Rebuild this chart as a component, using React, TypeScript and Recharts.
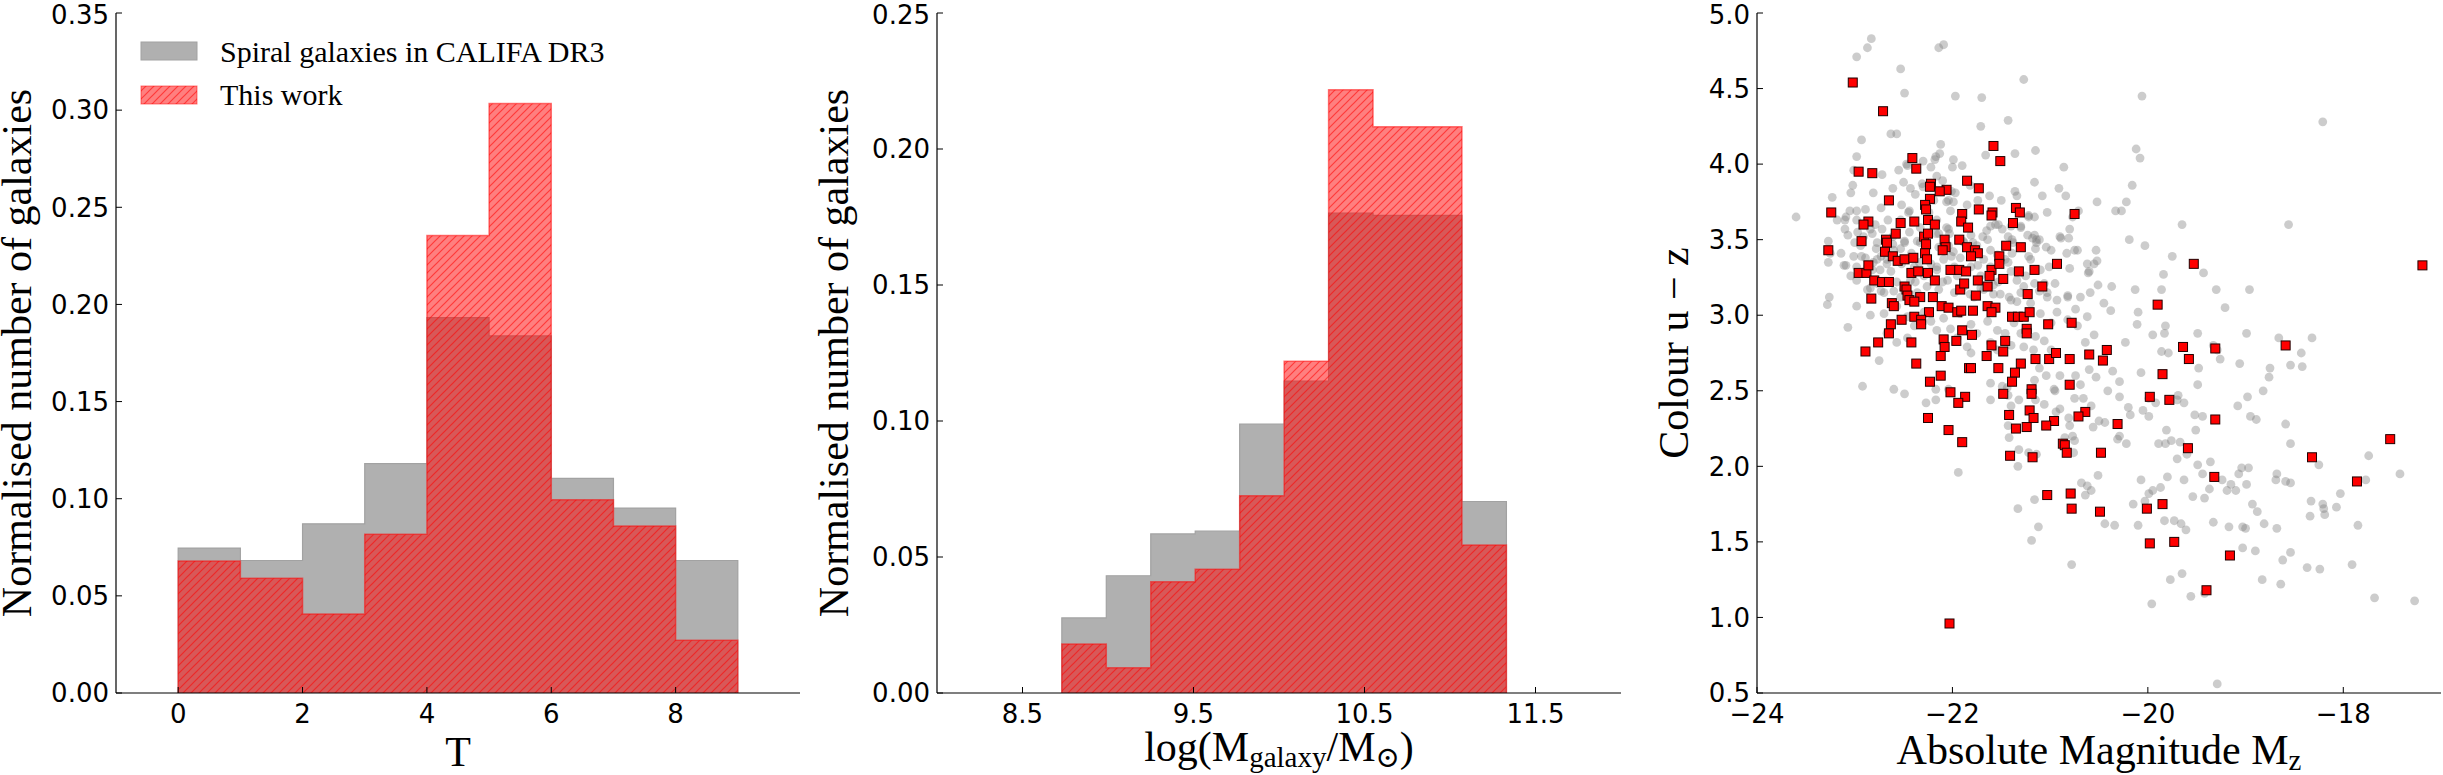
import type { ReactNode } from 'react';
import { Area, ComposedChart, Label, Scatter, ScatterChart, XAxis, YAxis } from 'recharts';

// ---- morphological type T: normalised histograms (shared bin edges) ----
const T_EDGES = [0, 1, 2, 3, 4, 5, 6, 7, 8, 9];
const T_CALIFA = [0.0746, 0.0682, 0.0871, 0.1181, 0.1932, 0.1838, 0.1105, 0.0952, 0.0682];
const T_THIS_WORK = [0.068, 0.0591, 0.0407, 0.0817, 0.2355, 0.3034, 0.0995, 0.086, 0.0272];
const T_TICKS = [0, 2, 4, 6, 8];
const T_FRACTION_TICKS = [0, 0.05, 0.1, 0.15, 0.2, 0.25, 0.3, 0.35];

// ---- stellar mass log(M/Msun) ----
const MASS_EDGES = [8.73, 8.99, 9.25, 9.51, 9.77, 10.03, 10.29, 10.55, 10.81, 11.07, 11.33];
const MASS_CALIFA = [0.0276, 0.0431, 0.0585, 0.0595, 0.0989, 0.1147, 0.1764, 0.1756, 0.1756, 0.0704];
const MASS_THIS_WORK = [0.018, 0.0093, 0.0409, 0.0455, 0.0725, 0.122, 0.2218, 0.2082, 0.2082, 0.0544];
const MASS_TICKS = [8.5, 9.5, 10.5, 11.5];
const MASS_FRACTION_TICKS = [0, 0.05, 0.1, 0.15, 0.2, 0.25];

// ---- colour-magnitude diagram: [M_z, u - z] ----
const MAG_TICKS = [-24, -22, -20, -18];
const COLOUR_TICKS = [0.5, 1, 1.5, 2, 2.5, 3, 3.5, 4, 4.5, 5];

const CALIFA_MZ_UZ: [number, number][] = [
  [-22.83, 4.83], [-22.87, 4.77], [-22.98, 4.71], [-22.09, 4.79], [-22.14, 4.77], [-22.53, 4.63], [-21.27, 4.56],
  [-22.49, 4.47], [-21.97, 4.45], [-21.7, 4.44], [-21.43, 4.29], [-21.71, 4.25], [-22.63, 4.2], [-22.57, 4.2],
  [-22.93, 4.16], [-22.12, 4.13], [-22.17, 4.05], [-22.98, 4.05], [-21.99, 4.03], [-21.9, 3.99], [-21.66, 4.06],
  [-21.15, 4.09], [-21.36, 4.07], [-23.01, 3.96], [-22.72, 3.93], [-22.47, 4.0], [-22.55, 3.96], [-22.3, 4.02],
  [-20.86, 3.98], [-23.02, 3.86], [-23.04, 3.81], [-22.81, 3.81], [-22.61, 3.84], [-22.5, 3.88], [-22.43, 3.84],
  [-22.38, 3.8], [-22.31, 3.87], [-22.16, 3.92], [-22.1, 3.89], [-22.01, 3.82], [-21.99, 3.75], [-21.82, 3.86],
  [-21.97, 3.81], [-21.62, 3.79], [-21.36, 3.82], [-21.34, 3.79], [-21.16, 3.88], [-21.08, 3.79], [-20.91, 3.84],
  [-20.84, 3.79], [-23.23, 3.78], [-22.98, 3.69], [-23.05, 3.69], [-23.1, 3.63], [-23.18, 3.63], [-22.89, 3.7],
  [-22.73, 3.71], [-22.52, 3.73], [-22.44, 3.69], [-22.24, 3.68], [-22.06, 3.75], [-21.85, 3.73], [-21.74, 3.76],
  [-21.5, 3.76], [-21.22, 3.66], [-21.16, 3.65], [-21.03, 3.68], [-20.71, 3.69], [-20.52, 3.75], [-23.6, 3.65],
  [-23.27, 3.49], [-23.25, 3.41], [-23.27, 3.35], [-23.14, 3.41], [-23.09, 3.33], [-23.1, 3.57], [-23.07, 3.53],
  [-23.0, 3.48], [-22.97, 3.55], [-22.91, 3.52], [-22.84, 3.57], [-22.78, 3.44], [-22.73, 3.39], [-22.67, 3.34],
  [-22.61, 3.47], [-22.53, 3.44], [-22.49, 3.49], [-22.44, 3.55], [-22.36, 3.49], [-22.33, 3.58], [-22.17, 3.54],
  [-22.14, 3.45], [-22.06, 3.58], [-22.03, 3.54], [-22.01, 3.39], [-21.99, 3.42], [-21.89, 3.49], [-21.81, 3.53],
  [-21.79, 3.48], [-21.69, 3.52], [-21.65, 3.56], [-21.56, 3.6], [-21.49, 3.57], [-21.43, 3.52], [-21.38, 3.48],
  [-21.3, 3.58], [-21.23, 3.53], [-21.18, 3.51], [-21.14, 3.5], [-21.15, 3.44], [-21.04, 3.45], [-20.9, 3.52],
  [-20.8, 3.57], [-20.75, 3.43], [-20.72, 3.43], [-20.53, 3.43], [-21.61, 3.43], [-21.39, 3.41], [-21.22, 3.39],
  [-21.01, 3.32], [-20.8, 3.31], [-20.61, 3.28], [-20.55, 3.34], [-22.93, 3.39], [-22.87, 3.32], [-22.81, 3.35],
  [-22.34, 3.35], [-22.16, 3.32], [-21.74, 3.33], [-21.43, 3.35], [-23.26, 3.12], [-23.28, 3.07], [-23.07, 2.92],
  [-22.98, 3.06], [-23.04, 3.26], [-22.84, 3.18], [-22.73, 3.16], [-22.6, 3.16], [-22.53, 3.12], [-22.38, 3.22],
  [-22.29, 3.26], [-22.1, 3.22], [-21.95, 3.26], [-21.82, 3.14], [-21.71, 3.18], [-21.58, 3.14], [-21.53, 3.22],
  [-21.42, 3.12], [-21.34, 3.09], [-21.27, 3.19], [-21.16, 3.21], [-21.11, 3.16], [-21.03, 3.12], [-20.95, 3.21],
  [-20.82, 3.13], [-20.69, 3.12], [-20.51, 3.2], [-20.6, 2.64], [-20.53, 2.59], [-20.74, 2.6], [-20.69, 2.54],
  [-20.75, 2.45], [-20.66, 2.45], [-20.58, 2.4], [-20.56, 2.26], [-20.5, 2.3], [-20.9, 2.38], [-21.06, 2.41],
  [-20.95, 2.5], [-20.9, 2.6], [-21.04, 2.6], [-21.11, 2.65], [-21.16, 2.57], [-21.32, 2.44], [-21.43, 2.47],
  [-21.44, 2.52], [-21.42, 2.19], [-21.32, 2.11], [-21.33, 2.0], [-21.22, 2.09], [-20.75, 2.17], [-20.76, 2.09],
  [-20.68, 1.89], [-20.62, 1.87], [-20.58, 1.84], [-20.51, 1.94], [-21.16, 1.78], [-21.12, 1.6], [-21.19, 1.51],
  [-21.33, 1.72], [-20.78, 1.35], [-21.94, 1.96], [-22.92, 2.53], [-22.75, 2.7], [-22.6, 2.51], [-22.49, 2.48],
  [-22.27, 2.42], [-22.17, 2.44], [-22.17, 2.51], [-22.04, 2.51], [-21.61, 2.55], [-21.61, 2.44], [-21.49, 2.53],
  [-21.4, 2.4], [-21.15, 2.44], [-21.43, 2.27], [-21.14, 2.08], [-20.94, 2.36], [-20.81, 2.32], [-20.8, 2.27],
  [-20.77, 2.2], [-20.85, 2.19], [-20.64, 1.81], [-20.96, 2.51], [-21.81, 2.75], [-22.18, 4.03], [-22.13, 4.07],
  [-22.22, 3.98], [-22.46, 3.99], [-22.0, 3.98], [-22.3, 3.85], [-22.19, 3.76], [-22.04, 3.76], [-23.09, 3.65],
  [-22.98, 3.63], [-22.79, 3.6], [-22.82, 3.54], [-22.77, 3.48], [-22.72, 3.57], [-22.66, 3.63], [-22.61, 3.52],
  [-22.53, 3.63], [-22.45, 3.68], [-22.16, 3.63], [-22.02, 3.69], [-22.14, 3.54], [-22.04, 3.57], [-21.88, 3.48],
  [-21.75, 3.46], [-21.64, 3.5], [-21.61, 3.59], [-21.53, 3.6], [-21.4, 3.59], [-21.39, 3.5], [-21.3, 3.59],
  [-21.22, 3.65], [-21.16, 3.53], [-21.11, 3.5], [-21.14, 3.48], [-20.99, 3.43], [-20.83, 3.41], [-20.77, 3.65],
  [-20.89, 3.51], [-20.81, 3.51], [-20.62, 3.34], [-20.52, 3.36], [-23.11, 3.33], [-23.01, 3.39], [-22.98, 3.32],
  [-22.94, 3.46], [-22.89, 3.38], [-22.82, 3.3], [-22.77, 3.37], [-22.74, 3.3], [-22.67, 3.37], [-22.63, 3.29],
  [-22.6, 3.43], [-22.52, 3.34], [-22.49, 3.48], [-22.42, 3.41], [-22.39, 3.32], [-22.33, 3.48], [-22.22, 3.34],
  [-22.16, 3.3], [-22.09, 3.37], [-22.04, 3.46], [-21.98, 3.32], [-21.92, 3.38], [-21.81, 3.32], [-21.71, 3.26],
  [-21.68, 3.37], [-21.61, 3.32], [-21.54, 3.4], [-21.46, 3.37], [-21.4, 3.29], [-21.34, 3.23], [-21.25, 3.26],
  [-21.2, 3.37], [-21.1, 3.3], [-21.06, 3.21], [-21.03, 3.15], [-20.93, 3.1], [-20.82, 3.12], [-20.74, 3.04],
  [-20.59, 3.15], [-20.6, 3.29], [-22.98, 3.23], [-22.87, 3.17], [-22.77, 3.21], [-22.7, 3.15], [-22.57, 3.22],
  [-22.5, 3.17], [-22.43, 3.23], [-22.36, 3.15], [-22.26, 3.19], [-22.14, 3.17], [-22.05, 3.23], [-21.98, 3.15],
  [-21.88, 3.19], [-21.78, 3.12], [-21.68, 3.17], [-21.58, 3.2], [-21.51, 3.14], [-21.4, 3.1], [-21.3, 3.15],
  [-21.2, 3.08], [-21.1, 3.01], [-20.99, 2.95], [-20.93, 3.02], [-20.82, 2.97], [-20.72, 2.93], [-20.62, 2.99],
  [-20.55, 2.87], [-20.64, 2.82], [-22.84, 3.0], [-22.7, 3.01], [-22.57, 3.06], [-22.46, 2.99], [-22.39, 2.93],
  [-22.29, 3.02], [-22.22, 2.96], [-22.16, 2.9], [-22.09, 2.98], [-22.02, 2.91], [-21.92, 3.01], [-21.81, 2.94],
  [-21.75, 2.88], [-21.64, 2.96], [-21.54, 2.9], [-21.46, 2.88], [-21.37, 2.95], [-21.3, 2.88], [-21.23, 2.91],
  [-21.15, 2.86], [-21.06, 2.83], [-22.67, 2.88], [-22.57, 2.82], [-22.46, 2.85], [-22.09, 2.82], [-21.95, 2.85],
  [-21.85, 2.79], [-21.61, 2.82], [-21.54, 2.77], [-21.4, 2.8], [-21.27, 2.79], [-21.17, 2.77], [-20.99, 2.77],
  [-20.06, 4.45], [-18.21, 4.28], [-20.12, 4.1], [-20.08, 4.04], [-20.16, 3.86], [-20.22, 3.75], [-20.27, 3.69],
  [-20.33, 3.69], [-19.65, 3.6], [-18.56, 3.6], [-20.19, 3.5], [-20.03, 3.46], [-19.75, 3.39], [-19.43, 3.28],
  [-19.84, 3.27], [-20.37, 3.19], [-20.13, 3.17], [-19.86, 3.17], [-19.3, 3.17], [-18.96, 3.17], [-20.45, 3.08],
  [-20.38, 3.03], [-20.1, 3.02], [-20.11, 2.94], [-19.21, 3.05], [-19.95, 2.87], [-19.82, 2.93], [-19.83, 2.88],
  [-19.49, 2.88], [-18.99, 2.88], [-18.66, 2.85], [-18.32, 2.85], [-20.23, 2.82], [-19.86, 2.76], [-19.79, 2.75],
  [-19.33, 2.8], [-19.29, 2.77], [-19.26, 2.71], [-19.48, 2.65], [-19.06, 2.68], [-18.43, 2.75], [-18.42, 2.66],
  [-18.54, 2.67], [-18.75, 2.65], [-18.76, 2.59], [-18.82, 2.5], [-18.98, 2.46], [-19.08, 2.4], [-18.95, 2.33],
  [-18.89, 2.31], [-18.59, 2.28], [-18.54, 2.15], [-20.36, 2.63], [-20.29, 2.56], [-20.07, 2.62], [-19.49, 2.54],
  [-20.41, 2.5], [-20.29, 2.46], [-19.99, 2.45], [-19.92, 2.42], [-19.69, 2.47], [-19.7, 2.44], [-19.63, 2.42],
  [-20.05, 2.37], [-19.99, 2.33], [-20.2, 2.39], [-20.18, 2.34], [-19.52, 2.34], [-19.44, 2.33], [-19.51, 2.24],
  [-19.81, 2.24], [-20.44, 2.29], [-20.29, 2.2], [-20.31, 2.18], [-20.22, 2.15], [-19.89, 2.15], [-19.82, 2.15],
  [-19.76, 2.17], [-19.67, 2.16], [-19.6, 2.08], [-19.7, 2.05], [-19.49, 2.01], [-19.36, 2.03], [-19.44, 1.95],
  [-19.24, 1.91], [-19.15, 1.88], [-19.19, 1.84], [-19.1, 1.84], [-19.37, 1.85], [-19.42, 1.79], [-19.54, 1.8],
  [-19.63, 1.91], [-19.8, 1.93], [-20.07, 1.91], [-19.87, 1.86], [-19.95, 1.84], [-19.99, 1.82], [-20.03, 1.77],
  [-20.15, 1.75], [-19.83, 1.64], [-19.73, 1.64], [-19.66, 1.62], [-19.61, 1.58], [-19.33, 1.63], [-19.17, 1.6],
  [-19.03, 1.6], [-19.0, 1.59], [-19.07, 1.95], [-19.04, 1.99], [-18.97, 1.99], [-18.99, 1.88], [-18.93, 1.75],
  [-18.88, 1.7], [-18.81, 1.62], [-18.68, 1.59], [-18.69, 1.91], [-18.68, 1.95], [-18.59, 1.9], [-18.54, 1.89],
  [-18.25, 2.01], [-18.33, 1.77], [-18.21, 1.75], [-18.19, 1.68], [-18.2, 1.72], [-18.34, 1.67], [-18.07, 1.73],
  [-18.03, 1.82], [-17.77, 1.91], [-17.74, 2.07], [-17.42, 1.95], [-17.85, 1.61], [-17.91, 1.35], [-17.68, 1.13],
  [-17.27, 1.11], [-18.37, 1.33], [-18.24, 1.32], [-18.64, 1.22], [-18.54, 1.43], [-18.62, 1.38], [-18.83, 1.25],
  [-18.9, 1.44], [-19.03, 1.46], [-19.42, 1.16], [-19.56, 1.14], [-19.65, 1.29], [-19.77, 1.25], [-19.96, 1.09],
  [-20.1, 1.61], [-20.34, 1.61], [-20.44, 1.62], [-19.29, 0.56],
];

const THIS_WORK_MZ_UZ: [number, number][] = [
  [-23.02, 4.54], [-22.71, 4.35], [-21.58, 4.12], [-21.51, 4.02], [-22.41, 4.04], [-22.37, 3.97], [-22.96, 3.95],
  [-22.82, 3.94], [-21.85, 3.89], [-21.73, 3.84], [-22.22, 3.87], [-22.23, 3.85], [-22.06, 3.83], [-22.13, 3.82],
  [-22.65, 3.76], [-22.23, 3.77], [-23.24, 3.68], [-22.28, 3.73], [-22.27, 3.7], [-21.73, 3.7], [-21.9, 3.67],
  [-21.59, 3.68], [-21.6, 3.66], [-21.35, 3.71], [-21.31, 3.68], [-20.75, 3.67], [-21.38, 3.61], [-22.86, 3.62],
  [-22.91, 3.6], [-22.53, 3.61], [-22.39, 3.62], [-22.25, 3.63], [-22.18, 3.6], [-21.91, 3.62], [-21.84, 3.58],
  [-22.93, 3.49], [-22.68, 3.5], [-22.67, 3.48], [-22.58, 3.54], [-22.29, 3.52], [-22.25, 3.54], [-22.27, 3.47],
  [-22.08, 3.5], [-22.07, 3.45], [-21.93, 3.5], [-22.1, 3.43], [-21.85, 3.45], [-21.77, 3.43], [-21.74, 3.41],
  [-21.81, 3.39], [-21.3, 3.45], [-21.45, 3.46], [-21.52, 3.39], [-23.27, 3.43], [-22.69, 3.42], [-22.61, 3.39],
  [-22.56, 3.36], [-22.49, 3.37], [-22.4, 3.38], [-22.28, 3.41], [-22.26, 3.37], [-22.02, 3.3], [-21.93, 3.3],
  [-21.86, 3.29], [-21.6, 3.3], [-21.52, 3.34], [-21.32, 3.29], [-21.16, 3.3], [-20.93, 3.34], [-22.96, 3.28],
  [-22.88, 3.28], [-22.86, 3.33], [-22.42, 3.28], [-22.35, 3.29], [-22.25, 3.28], [-22.8, 3.23], [-22.72, 3.22],
  [-22.65, 3.22], [-22.18, 3.23], [-21.74, 3.23], [-21.62, 3.26], [-21.48, 3.24], [-21.08, 3.19], [-22.49, 3.19],
  [-22.47, 3.17], [-21.92, 3.17], [-21.88, 3.21], [-21.64, 3.19], [-21.23, 3.14], [-22.83, 3.11], [-22.46, 3.13],
  [-22.33, 3.12], [-22.2, 3.12], [-21.76, 3.13], [-22.44, 3.1], [-22.39, 3.09], [-22.62, 3.08], [-22.6, 3.06],
  [-22.11, 3.06], [-22.04, 3.05], [-21.64, 3.06], [-21.56, 3.05], [-19.9, 3.07], [-22.24, 3.02], [-21.95, 3.02],
  [-21.91, 3.03], [-21.79, 3.03], [-22.39, 2.99], [-22.32, 2.97], [-22.52, 2.97], [-21.6, 3.02], [-21.39, 2.99],
  [-21.33, 2.99], [-21.27, 2.99], [-21.21, 3.02], [-21.02, 2.94], [-20.78, 2.95], [-22.32, 2.94], [-22.63, 2.94],
  [-21.9, 2.9], [-21.24, 2.91], [-22.65, 2.88], [-21.8, 2.87], [-21.24, 2.88], [-22.76, 2.82], [-22.42, 2.82],
  [-22.09, 2.84], [-21.96, 2.83], [-21.46, 2.83], [-21.6, 2.8], [-22.08, 2.79], [-22.89, 2.76], [-21.48, 2.76],
  [-22.12, 2.73], [-21.65, 2.73], [-21.15, 2.71], [-21.01, 2.71], [-20.94, 2.75], [-20.8, 2.71], [-20.6, 2.74],
  [-20.42, 2.77], [-20.46, 2.7], [-22.37, 2.68], [-21.3, 2.68], [-21.36, 2.62], [-21.83, 2.65], [-21.81, 2.65],
  [-21.53, 2.65], [-22.12, 2.6], [-19.64, 2.79], [-19.58, 2.71], [-19.31, 2.78], [-18.59, 2.8], [-19.85, 2.61],
  [-22.23, 2.56], [-21.39, 2.56], [-20.8, 2.54], [-21.19, 2.51], [-22.02, 2.49], [-21.48, 2.48], [-21.19, 2.48],
  [-21.87, 2.46], [-19.98, 2.46], [-19.78, 2.44], [-21.94, 2.42], [-21.21, 2.37], [-21.42, 2.34], [-20.64, 2.36],
  [-20.71, 2.33], [-21.17, 2.32], [-22.25, 2.32], [-19.31, 2.31], [-20.96, 2.3], [-21.04, 2.27], [-20.31, 2.28],
  [-21.24, 2.26], [-21.35, 2.25], [-22.04, 2.24], [-21.9, 2.16], [-20.87, 2.15], [-20.85, 2.14], [-17.52, 2.18],
  [-19.59, 2.12], [-20.83, 2.09], [-20.48, 2.09], [-21.41, 2.07], [-21.18, 2.06], [-18.32, 2.06], [-19.32, 1.93],
  [-17.86, 1.9], [-21.03, 1.81], [-20.79, 1.82], [-19.85, 1.75], [-20.78, 1.72], [-20.01, 1.72], [-20.49, 1.7],
  [-19.98, 1.49], [-19.73, 1.5], [-19.16, 1.41], [-19.4, 1.18], [-22.03, 0.96], [-17.19, 3.33], [-19.53, 3.34],
];

const CALIFA_LABEL = 'Spiral galaxies in CALIFA DR3';
const THIS_WORK_LABEL = 'This work';

// ---- layout ----
const PLOT_W = 684;
const PLOT_H = 680;
const Y_AXIS_W = 96;
const X_AXIS_H = 82;
const MARGIN = { top: 13, right: 4, bottom: 0, left: 40 };
const CHART_W = MARGIN.left + Y_AXIS_W + PLOT_W + MARGIN.right;
const CHART_H = MARGIN.top + PLOT_H + X_AXIS_H;
const PLOT_X0 = MARGIN.left + Y_AXIS_W;
const PLOT_CX = PLOT_X0 + PLOT_W / 2;
const PLOT_CY = MARGIN.top + PLOT_H / 2;
const PLOT_Y1 = MARGIN.top + PLOT_H;

const SANS = "'DejaVu Sans', sans-serif";
const SERIF = "'Liberation Serif', 'DejaVu Serif', serif";
const TITLE_SIZE = 42;
const SUB_SIZE = 29;
const TICK = { fontFamily: SANS, fontSize: 26, fill: '#000' };
const AXIS_LINE = { stroke: '#000', strokeWidth: 1.2 };
const TICK_LINE = { stroke: '#000', strokeWidth: 1 };

const GRAY_FILL = '#b0b0b0';
const GRAY_EDGE = '#a2a2a2';

const fixed2 = (v: number) => v.toFixed(2);
const fixed1 = (v: number) => v.toFixed(1);
const signed = (v: number) => (v < 0 ? `\u2212${Math.abs(v)}` : `${v}`);

// stepfilled outline: rise at the first edge, one flat step per bin, drop at the last edge
function stepRows(edges: number[], califa: number[], thisWork: number[]) {
  const n = califa.length;
  const rows = [{ x: edges[0], califa: 0, thisWork: 0 }];
  for (let i = 0; i < n; i++) rows.push({ x: edges[i], califa: califa[i], thisWork: thisWork[i] });
  rows.push({ x: edges[n], califa: califa[n - 1], thisWork: thisWork[n - 1] });
  rows.push({ x: edges[n], califa: 0, thisWork: 0 });
  return rows;
}

const xTitle = (content: ReactNode, baseline = 73) => () => (
  <text
    x={PLOT_CX}
    y={PLOT_Y1 + baseline}
    textAnchor="middle"
    fontFamily={SERIF}
    fontSize={TITLE_SIZE}
    fill="#000"
  >
    {content}
  </text>
);

// baseX: distance of the rotated baseline to the left of the plot frame
const yTitle = (content: ReactNode, baseX: number) => () => (
  <text
    x={PLOT_X0 - baseX}
    y={PLOT_CY}
    transform={`rotate(-90 ${PLOT_X0 - baseX} ${PLOT_CY})`}
    textAnchor="middle"
    fontFamily={SERIF}
    fontSize={TITLE_SIZE}
    fill="#000"
  >
    {content}
  </text>
);

// frame: ticks point inwards on all four sides, labels only on bottom/left
function frameAxes(xDomain: number[], xTicks: number[], yDomain: number[], yTicks: number[]) {
  return [
    <XAxis
      key="top"
      xAxisId="top"
      orientation="top"
      type="number"
      domain={xDomain}
      ticks={xTicks}
      height={0}
      tick={false}
      tickSize={-6}
      axisLine={AXIS_LINE}
      tickLine={TICK_LINE}
    />,
    <YAxis
      key="right"
      yAxisId="right"
      orientation="right"
      type="number"
      domain={yDomain}
      ticks={yTicks}
      width={0}
      tick={false}
      tickSize={-6}
      axisLine={AXIS_LINE}
      tickLine={TICK_LINE}
    />,
  ];
}

function Histogram({
  rows,
  xDomain,
  xTicks,
  xFormat,
  yDomain,
  yTicks,
  xLabel,
  yBaseX,
}: {
  rows: ReturnType<typeof stepRows>;
  xDomain: number[];
  xTicks: number[];
  xFormat: (v: number) => string;
  yDomain: number[];
  yTicks: number[];
  xLabel: () => ReactNode;
  yBaseX: number;
}) {
  return (
    <ComposedChart width={CHART_W} height={CHART_H} data={rows} margin={MARGIN}>
      <XAxis
        dataKey="x"
        type="number"
        domain={xDomain}
        ticks={xTicks}
        tickFormatter={xFormat}
        height={X_AXIS_H}
        tick={TICK}
        tickSize={-6}
        tickMargin={18}
        axisLine={AXIS_LINE}
        tickLine={TICK_LINE}
        allowDataOverflow
      >
        <Label content={xLabel} />
      </XAxis>
      <YAxis
        type="number"
        domain={yDomain}
        ticks={yTicks}
        tickFormatter={fixed2}
        width={Y_AXIS_W}
        tick={TICK}
        tickSize={-6}
        tickMargin={13}
        axisLine={AXIS_LINE}
        tickLine={TICK_LINE}
        allowDataOverflow
      >
        <Label content={yTitle('Normalised number of galaxies', yBaseX)} />
      </YAxis>
      {frameAxes(xDomain, xTicks, yDomain, yTicks)}
      <Area
        type="stepAfter"
        dataKey="califa"
        fill={GRAY_FILL}
        fillOpacity={1}
        stroke={GRAY_EDGE}
        strokeWidth={1.2}
        dot={false}
        activeDot={false}
        isAnimationActive={false}
      />
      <Area
        type="stepAfter"
        dataKey="thisWork"
        fill="url(#thisWorkHatch)"
        fillOpacity={1}
        stroke="#ff0000"
        strokeOpacity={0.5}
        strokeWidth={1.5}
        dot={false}
        activeDot={false}
        isAnimationActive={false}
      />
    </ComposedChart>
  );
}

const califaPoints = CALIFA_MZ_UZ.map(([mag, colour]) => ({ mag, colour }));
const thisWorkPoints = THIS_WORK_MZ_UZ.map(([mag, colour]) => ({ mag, colour }));

const grayDot = (p: any) => <circle cx={p.cx} cy={p.cy} r={4.4} fill="#808080" fillOpacity={0.4} />;
const redSquare = (p: any) => (
  <rect x={p.cx - 4.5} y={p.cy - 4.5} width={9} height={9} fill="#ff0000" stroke="#200000" strokeWidth={1} />
);

function ColourMagnitude() {
  return (
    <ScatterChart width={CHART_W} height={CHART_H} margin={MARGIN}>
      <XAxis
        dataKey="mag"
        type="number"
        domain={[-24, -17]}
        ticks={MAG_TICKS}
        tickFormatter={signed}
        height={X_AXIS_H}
        tick={TICK}
        tickSize={-6}
        tickMargin={18}
        axisLine={AXIS_LINE}
        tickLine={TICK_LINE}
        allowDataOverflow
      >
        <Label
          content={xTitle(
            <>
              Absolute Magnitude M
              <tspan fontSize={SUB_SIZE} dy={6}>
                z
              </tspan>
            </>,
            71,
          )}
        />
      </XAxis>
      <YAxis
        dataKey="colour"
        type="number"
        domain={[0.5, 5]}
        ticks={COLOUR_TICKS}
        tickFormatter={fixed1}
        width={Y_AXIS_W}
        tick={TICK}
        tickSize={-6}
        tickMargin={13}
        axisLine={AXIS_LINE}
        tickLine={TICK_LINE}
        allowDataOverflow
      >
        <Label content={yTitle('Colour u \u2212 z', 69)} />
      </YAxis>
      {frameAxes([-24, -17], MAG_TICKS, [0.5, 5], COLOUR_TICKS)}
      <Scatter data={califaPoints} shape={grayDot} isAnimationActive={false} />
      <Scatter data={thisWorkPoints} shape={redSquare} isAnimationActive={false} />
    </ScatterChart>
  );
}

export default function App() {
  return (
    <div style={{ position: 'absolute', left: 0, top: 0, width: 2443, height: 775, background: '#fff', overflow: 'hidden' }}>
      <svg width={0} height={0} style={{ position: 'absolute' }}>
        <defs>
          <pattern id="thisWorkHatch" patternUnits="userSpaceOnUse" width={8} height={8}>
            <rect width={8} height={8} fill="#ff0000" fillOpacity={0.5} />
            <path
              d="M-2,2 L2,-2 M0,8 L8,0 M6,10 L10,6"
              stroke="#ff0000"
              strokeOpacity={0.55}
              strokeWidth={1.2}
            />
          </pattern>
        </defs>
      </svg>

      <div style={{ position: 'absolute', left: 116 - PLOT_X0, top: 0 }}>
        <Histogram
          rows={stepRows(T_EDGES, T_CALIFA, T_THIS_WORK)}
          xDomain={[-1, 10]}
          xTicks={T_TICKS}
          xFormat={(v) => `${v}`}
          yDomain={[0, 0.35]}
          yTicks={T_FRACTION_TICKS}
          xLabel={xTitle('T')}
          yBaseX={85}
        />
        <svg
          width={620}
          height={120}
          style={{ position: 'absolute', left: PLOT_X0 - 116, top: 0, pointerEvents: 'none' }}
        >
          <rect x={141} y={42} width={56} height={18} fill={GRAY_FILL} stroke={GRAY_EDGE} />
          <text x={220} y={62} fontFamily={SERIF} fontSize={30} fill="#000">
            {CALIFA_LABEL}
          </text>
          <rect x={141} y={86} width={56} height={18} fill="url(#thisWorkHatch)" stroke="#ff0000" strokeOpacity={0.5} />
          <text x={220} y={105} fontFamily={SERIF} fontSize={30} fill="#000">
            {THIS_WORK_LABEL}
          </text>
        </svg>
      </div>

      <div style={{ position: 'absolute', left: 937 - PLOT_X0, top: 0 }}>
        <Histogram
          rows={stepRows(MASS_EDGES, MASS_CALIFA, MASS_THIS_WORK)}
          xDomain={[8, 12]}
          xTicks={MASS_TICKS}
          xFormat={fixed1}
          yDomain={[0, 0.25]}
          yTicks={MASS_FRACTION_TICKS}
          xLabel={xTitle(
            <>
              log(M
              <tspan fontSize={SUB_SIZE} dy={6}>
                galaxy
              </tspan>
              <tspan dy={-6}>/M</tspan>
              <tspan fontSize={SUB_SIZE} dy={6}>
                {'\u2299'}
              </tspan>
              <tspan dy={-6}>)</tspan>
            </>,
            68,
          )}
          yBaseX={89}
        />
      </div>

      <div style={{ position: 'absolute', left: 1757 - PLOT_X0, top: 0 }}>
        <ColourMagnitude />
      </div>
    </div>
  );
}
